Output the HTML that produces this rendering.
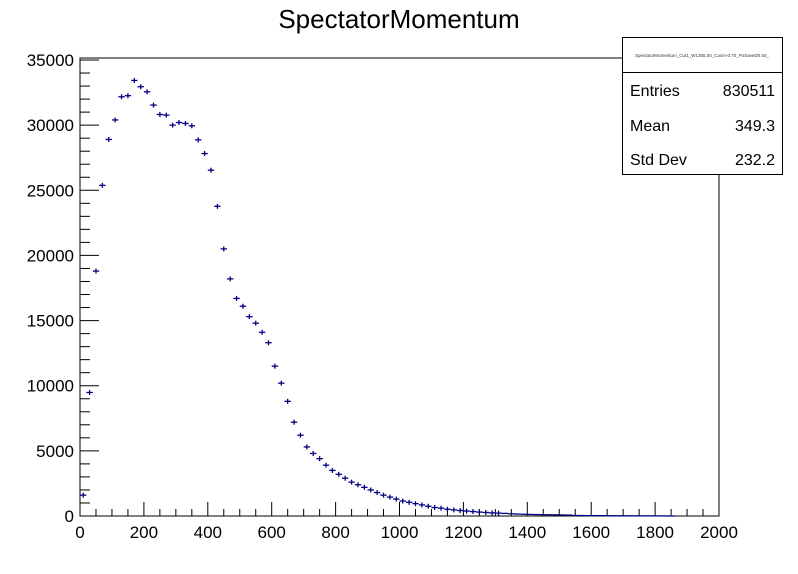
<!DOCTYPE html>
<html><head><meta charset="utf-8"><style>
body{margin:0;background:#fff;}
svg{display:block;font-family:"Liberation Sans",sans-serif;}
</style></head><body>
<svg id="c" width="798" height="574" viewBox="0 0 798 574" xmlns="http://www.w3.org/2000/svg">
<rect x="0" y="0" width="798" height="574" fill="#fff"/>
<text x="399" y="28" font-size="26" text-anchor="middle">SpectatorMomentum</text>
<g id="axes"></g>
<g id="marks"></g>
<g>
<rect x="622.5" y="37.5" width="160" height="137" fill="#fff" stroke="#000" stroke-width="1"/>
<line x1="622.5" y1="72.5" x2="782.5" y2="72.5" stroke="#000"/>
<text x="702" y="57" font-size="4.5" text-anchor="middle" fill="#333">SpectatorMomentum_Cut1_W1355.00_Cosm-0.70_PoSaveD0.50_</text>
<text x="630" y="96" font-size="16">Entries</text>
<text x="775" y="96" font-size="16" text-anchor="end">830511</text>
<text x="630" y="131" font-size="16">Mean</text>
<text x="775" y="131" font-size="16" text-anchor="end">349.3</text>
<text x="630" y="165" font-size="16">Std Dev</text>
<text x="775" y="165" font-size="16" text-anchor="end">232.2</text>
</g>
</svg>
<script>
const binCenters = [10,30,50,70,90,110,130,150,170,190,210,230,250,270,290,310,330,350,370,390,410,430,450,470,490,510,530,550,570,590,610,630,650,670,690,710,730,750,770,790,810,830,850,870,890,910,930,950,970,990,1010,1030,1050,1070,1090,1110,1130,1150,1170,1190,1210,1230,1250,1270,1290,1310,1330,1350,1370,1390,1410,1430,1450,1470,1490,1510,1530,1550,1570,1590,1610,1630,1650,1670,1690,1710,1730,1750,1770,1790,1810,1830,1850];
const counts = [1600,9480,18800,25380,28900,30400,32180,32260,33430,32950,32560,31540,30820,30770,30000,30200,30130,29950,28870,27820,26540,23770,20500,18200,16700,16100,15300,14800,14100,13300,11500,10200,8800,7200,6200,5300,4800,4400,3900,3500,3200,2900,2600,2400,2200,2000,1800,1600,1450,1300,1150,1050,950,850,750,650,600,520,470,420,380,340,300,270,240,220,200,170,150,130,120,110,100,95,90,80,70,40,35,30,30,25,25,20,20,18,15,15,12,10,8,5,5];
const binWidth = 20;
const xTicks = [0,200,400,600,800,1000,1200,1400,1600,1800,2000];
const yTicks = [0,5000,10000,15000,20000,25000,30000,35000];
const X0=80, X1=719, Y0=516, Y1=60;
const xs = v => X0 + v*(X1-X0)/2000;
const ys = v => Y0 - v*(Y0-Y1)/35000;
const NS="http://www.w3.org/2000/svg";
function mk(tag, attrs, parent){const e=document.createElementNS(NS,tag);for(const k in attrs)e.setAttribute(k,attrs[k]);parent.appendChild(e);return e;}
const ax=document.getElementById('axes');
const fr=mk('rect',{x:X0,y:58,width:X1-X0,height:Y0-58,fill:'none',stroke:'#000','stroke-width':1},ax);


for(let v=0;v<=2000;v+=50){const big=v%200===0;const mid=v%100===0;
 mk('line',{x1:xs(v),y1:Y0,x2:xs(v),y2:Y0-(big?14:7),stroke:'#000'},ax);}
for(let v=0;v<=35000;v+=1000){const big=v%5000===0;
 mk('line',{x1:X0,y1:ys(v),x2:X0+(big?19:10),y2:ys(v),stroke:'#000'},ax);}
xTicks.forEach(v=>{const t=mk('text',{x:xs(v),y:538,'font-size':17,'text-anchor':'middle'},ax);t.textContent=v;
 
 });
yTicks.forEach(v=>{const t=mk('text',{x:74,y:ys(v)+6,'font-size':17,'text-anchor':'end'},ax);t.textContent=v;
 
 });
const mg=document.getElementById('marks');
binCenters.forEach((c,i)=>{const n=counts[i];const y=ys(n);
 const g=mk('g',{},mg);
 
 
 mk('line',{x1:xs(c-binWidth/2),y1:y,x2:xs(c+binWidth/2),y2:y,stroke:'#000080','stroke-width':1.3},g);
 const e=Math.max(Math.sqrt(n)*(Y0-Y1)/35000,2.5);
 if(n>200) mk('line',{x1:xs(c),y1:y-e,x2:xs(c),y2:y+e,stroke:'#000080','stroke-width':1.3},g);
});
</script>
</body></html>
